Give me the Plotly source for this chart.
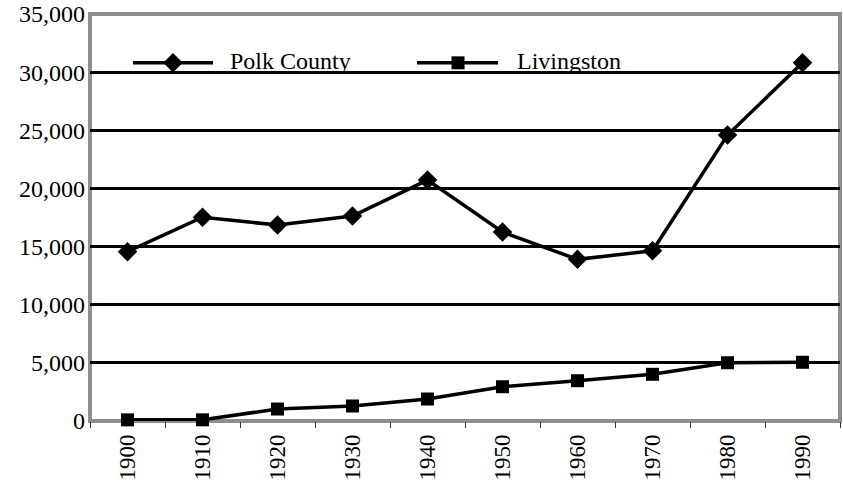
import plotly.graph_objects as go

# Population by census year
years = ["1900", "1910", "1920", "1930", "1940", "1950", "1960", "1970", "1980", "1990"]
polk_county = [14560, 17520, 16850, 17630, 20720, 16250, 13900, 14640, 24590, 30810]
livingston = [100, 100, 1030, 1290, 1890, 2950, 3465, 4015, 5010, 5050]

y_ticks = [0, 5000, 10000, 15000, 20000, 25000, 30000, 35000]
y_tick_text = ["0", "5,000", "10,000", "15,000", "20,000", "25,000", "30,000", "35,000"]

SERIF = "Liberation Serif"

fig = go.Figure()
fig.add_trace(go.Scatter(
    x=years, y=polk_county, name="Polk County", mode="lines+markers",
    line=dict(color="black", width=3.5),
    marker=dict(symbol="diamond", size=15, color="black"),
    cliponaxis=False, showlegend=False,
))
fig.add_trace(go.Scatter(
    x=years, y=livingston, name="Livingston", mode="lines+markers",
    line=dict(color="black", width=3.5),
    marker=dict(symbol="square", size=13, color="black"),
    cliponaxis=False, showlegend=False,
))

shapes = [
    # white band behind the key, breaking the 30,000 gridline
    dict(type="rect", xref="paper", yref="y", x0=0.0173, x1=0.744, y0=29000, y1=31000,
         fillcolor="white", line=dict(width=0), layer="between"),
    # grey plot frame
    dict(type="rect", xref="paper", yref="paper", x0=0, x1=1, y0=0, y1=1,
         line=dict(color="#8e8e8e", width=4), fillcolor="rgba(0,0,0,0)", layer="between"),
    # key line samples
    dict(type="line", xref="paper", yref="paper", x0=0.0573, x1=0.164, y0=0.880, y1=0.880,
         line=dict(color="black", width=3.5), layer="above"),
    dict(type="line", xref="paper", yref="paper", x0=0.436, x1=0.544, y0=0.880, y1=0.880,
         line=dict(color="black", width=3.5), layer="above"),
]

# key markers
fig.add_trace(go.Scatter(
    x=[0.1107], y=[0.880], xaxis="x2", yaxis="y2", mode="markers",
    marker=dict(symbol="diamond", size=15, color="black"), showlegend=False, hoverinfo="skip",
))
fig.add_trace(go.Scatter(
    x=[0.4907], y=[0.880], xaxis="x2", yaxis="y2", mode="markers",
    marker=dict(symbol="square", size=13, color="black"), showlegend=False, hoverinfo="skip",
))

annotations = [
    dict(text="Polk County", xref="paper", yref="paper", x=0.184, y=0.884,
         xanchor="left", yanchor="middle", showarrow=False,
         font=dict(family=SERIF, size=24, color="#000")),
    dict(text="Livingston", xref="paper", yref="paper", x=0.5667, y=0.884,
         xanchor="left", yanchor="middle", showarrow=False,
         font=dict(family=SERIF, size=24, color="#000")),
]

fig.update_layout(
    width=843, height=486,
    margin=dict(l=90, r=3, t=14, b=65, autoexpand=False),
    paper_bgcolor="white", plot_bgcolor="white",
    showlegend=False,
    font=dict(family=SERIF),
    shapes=shapes, annotations=annotations,
    xaxis=dict(
        type="category", range=[-0.5, 9.5], tickson="boundaries",
        ticks="outside", ticklen=6, tickwidth=1, tickcolor="#333",
        tickangle=-90, ticklabelstandoff=8, automargin=False,
        tickfont=dict(family=SERIF, size=23, color="#000"),
        showgrid=False, showline=False, zeroline=False,
    ),
    yaxis=dict(
        range=[0, 35000], tickvals=y_ticks, ticktext=y_tick_text,
        tickfont=dict(family=SERIF, size=24, color="#000"),
        showgrid=True, gridcolor="black", gridwidth=2.5, automargin=False,
        zeroline=False, showline=False, ticks="", ticklabelstandoff=4,
    ),
    xaxis2=dict(overlaying="x", range=[0, 1], visible=False),
    yaxis2=dict(overlaying="y", range=[0, 1], visible=False),
)

fig.write_html("out.html")
